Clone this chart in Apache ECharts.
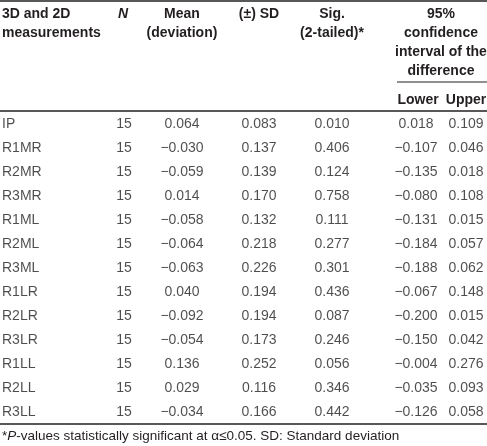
<!DOCTYPE html>
<html><head><meta charset="utf-8">
<script src="https://cdn.jsdelivr.net/npm/echarts@6/dist/echarts.min.js"></script>
<style>html,body{margin:0;padding:0;background:#fff}#c{width:487px;height:446px}</style>
</head><body><div id="c"></div>
<script>
const rows = ['IP','R1MR','R2MR','R3MR','R1ML','R2ML','R3ML','R1LR','R2LR','R3LR','R1LL','R2LL','R3LL'];
const nValues = [15,15,15,15,15,15,15,15,15,15,15,15,15];
const meanValues = [0.064,-0.030,-0.059,0.014,-0.058,-0.064,-0.063,0.040,-0.092,-0.054,0.136,0.029,-0.034];
const sdValues = [0.083,0.137,0.139,0.170,0.132,0.218,0.226,0.194,0.194,0.173,0.252,0.116,0.166];
const sigValues = [0.010,0.406,0.124,0.758,0.111,0.277,0.301,0.436,0.087,0.246,0.056,0.346,0.442];
const lowerValues = [0.018,-0.107,-0.135,-0.080,-0.131,-0.184,-0.188,-0.067,-0.200,-0.150,-0.004,-0.035,-0.126];
const upperValues = [0.109,0.046,0.018,0.108,0.015,0.057,0.062,0.148,0.015,0.042,0.276,0.093,0.058];

const FONT = '"Liberation Sans Narrow", "Arial Narrow", "Liberation Sans", Arial, sans-serif';
const FS = 14;
const INK = '#231f20';
const fmt = v => (v < 0 ? '\u2212' : '') + Math.abs(v).toFixed(3);

function col(x, values, formatter, align) {
  return {
    type: 'scatter', symbolSize: 0, silent: true,
    data: values.map((v, i) => ({ value: [x, rows[i]], raw: v })),
    label: {
      show: true, position: 'inside', align: align || 'center', verticalAlign: 'middle',
      color: INK, fontFamily: FONT, fontSize: FS,
      formatter: p => formatter(p.data.raw)
    }
  };
}

function htext(x, y, text, align, style) {
  return {
    type: 'text', x: x, y: y,
    style: { text: text, fill: INK, font: (style || 'bold') + ' ' + FS + 'px ' + FONT, textAlign: align || 'center', textVerticalAlign: 'middle' }
  };
}
function hline(x1, x2, y, w) {
  return { type: 'line', shape: { x1: x1, y1: y, x2: x2, y2: y }, style: { stroke: INK, lineWidth: w || 1.4 } };
}

const chart = echarts.init(document.getElementById('c'), null, { renderer: 'canvas' });
chart.setOption({
  animation: false,
  backgroundColor: '#fff',
  grid: { left: 0, right: 0, top: 112, bottom: 22 },
  xAxis: { type: 'value', min: 0, max: 487, show: false },
  yAxis: { type: 'category', data: rows, inverse: true, show: false },
  series: [
    col(2, rows, v => v, 'left'),
    col(124, nValues, v => String(v)),
    col(182, meanValues, fmt),
    col(259, sdValues, fmt),
    col(332, sigValues, fmt),
    col(416, lowerValues, fmt),
    col(466, upperValues, fmt)
  ],
  graphic: [
    hline(0, 487, 1, 1.6),
    htext(2, 14, '3D and 2D', 'left'),
    htext(2, 33, 'measurements', 'left'),
    htext(123, 14, 'N', 'center', 'italic bold'),
    htext(182, 14, 'Mean'),
    htext(182, 33, '(deviation)'),
    htext(259, 14, '(\u00b1) SD'),
    htext(332, 14, 'Sig.'),
    htext(332, 33, '(2-tailed)*'),
    htext(441, 14, '95%'),
    htext(441, 33, 'confidence'),
    htext(441, 52, 'interval of the'),
    htext(441, 71, 'difference'),
    hline(397, 487, 82, 1),
    htext(418, 100, 'Lower'),
    htext(466, 100, 'Upper'),
    hline(0, 487, 111),
    hline(0, 487, 424),
    {
      type: 'text', x: 2, y: 436,
      style: {
        text: '{n|*}{i|P}{n|-values statistically significant at \u03b1\u22640.05. SD: Standard deviation}',
        textVerticalAlign: 'middle',
        rich: {
          n: { fontFamily: FONT, fontSize: 13.5, fill: INK },
          i: { fontFamily: FONT, fontSize: 13.5, fontStyle: 'italic', fill: INK }
        }
      }
    }
  ]
});
</script></body></html>
